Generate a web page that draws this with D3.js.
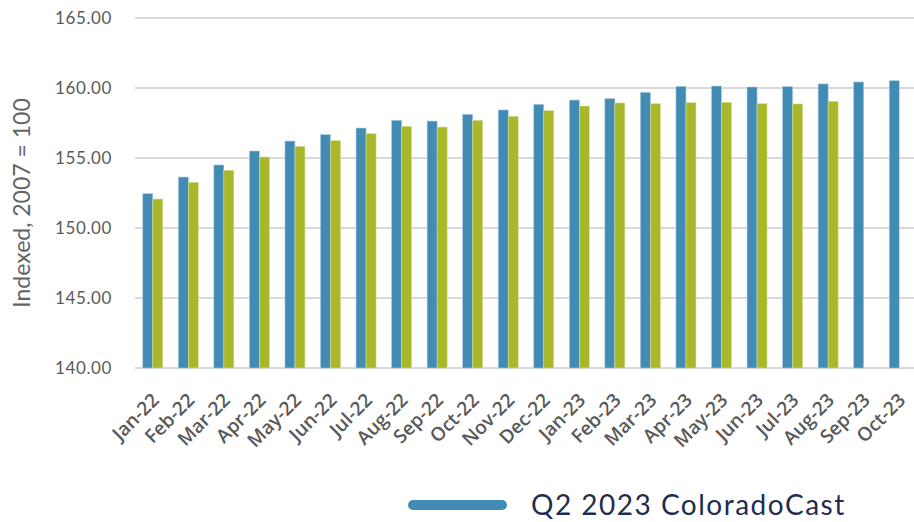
<!DOCTYPE html>
<html>
<head>
<meta charset="utf-8">
<script src="https://cdn.jsdelivr.net/npm/d3@7"></script>
<style>
  body { margin: 0; background: #fff; }
  svg { display: block; }
</style>
</head>
<body>
<svg width="914" height="522"></svg>
<script>
// months on the x axis
const months = ["Jan-22","Feb-22","Mar-22","Apr-22","May-22","Jun-22","Jul-22","Aug-22","Sep-22","Oct-22","Nov-22","Dec-22",
                "Jan-23","Feb-23","Mar-23","Apr-23","May-23","Jun-23","Jul-23","Aug-23","Sep-23","Oct-23"];

// Q2 2023 ColoradoCast (blue)
const castQ2 = [152.45,153.64,154.50,155.50,156.21,156.67,157.14,157.69,157.64,158.12,158.43,158.83,
                159.14,159.24,159.69,160.12,160.14,160.07,160.10,160.29,160.43,160.52];
// second series (green), ends Aug-23
const actual = [152.07,153.26,154.12,155.07,155.83,156.24,156.74,157.26,157.21,157.69,157.98,158.38,
                158.71,158.93,158.88,158.95,158.98,158.88,158.86,159.05];

const yTicks = [140,145,150,155,160,165];

const svg = d3.select("svg");
const mLeft = 135, mRight = 917, mTop = 18, mBottom = 368;
const blue = "#428bb5", green = "#a8b82a";

const x = d3.scaleBand().domain(months).range([mLeft, mRight]);
const y = d3.scaleLinear().domain([140, 165]).range([mBottom, mTop]);

// gridlines
svg.append("g").selectAll("line").data(yTicks).enter().append("line")
    .attr("x1", mLeft).attr("x2", 914)
    .attr("y1", d => y(d)).attr("y2", d => y(d))
    .attr("stroke", "#d9d9d9").attr("stroke-width", 2);

// y tick labels
svg.append("g").selectAll("text").data(yTicks).enter().append("text")
    .attr("x", 112).attr("y", d => y(d)).attr("dy", "0.35em")
    .attr("text-anchor", "end")
    .style("font-family", "Lato, 'Open Sans', sans-serif")
    .style("font-size", "17px").style("fill", "#595959")
    .style("letter-spacing", "0.6px")
    .text(d => d3.format(".2f")(d));

// y axis title
svg.append("text")
    .attr("transform", "translate(30,203) rotate(-90)")
    .attr("text-anchor", "middle")
    .style("font-family", "Lato, 'Open Sans', sans-serif")
    .style("font-size", "23px").style("fill", "#636363")
    .text("Indexed, 2007 = 100");

const barW = 10;

// blue bars
svg.append("g").selectAll("rect").data(castQ2).enter().append("rect")
    .attr("x", (d, i) => x(months[i]) + x.bandwidth() / 2 - barW)
    .attr("y", d => y(d))
    .attr("width", barW)
    .attr("height", d => y(140) - y(d))
    .attr("fill", blue)
    .attr("stroke", "#a9cbe0").attr("stroke-width", 0.6);

// green bars
svg.append("g").selectAll("rect").data(actual).enter().append("rect")
    .attr("x", (d, i) => x(months[i]) + x.bandwidth() / 2)
    .attr("y", d => y(d))
    .attr("width", barW)
    .attr("height", d => y(140) - y(d))
    .attr("fill", green)
    .attr("stroke", "#d6de98").attr("stroke-width", 0.6);

// x labels
svg.append("g").selectAll("text").data(months).enter().append("text")
    .attr("transform", d => "translate(" + (x(d) + x.bandwidth() / 2 - 2) + ",392) rotate(-45)")
    .attr("text-anchor", "end")
    .attr("dy", "0.7em")
    .style("font-family", "'Open Sans', sans-serif")
    .style("font-weight", 600)
    .style("font-size", "19px").style("fill", "#595959")
    .text(d => d);

// legend
svg.append("line")
    .attr("x1", 413).attr("x2", 502).attr("y1", 505).attr("y2", 505)
    .attr("stroke", blue).attr("stroke-width", 10).attr("stroke-linecap", "round");
svg.append("text")
    .attr("x", 531).attr("y", 515)
    .style("font-family", "Lato, 'Open Sans', sans-serif")
    .style("font-size", "28px").style("fill", "#1f2d50")
    .style("letter-spacing", "1.5px")
    .text("Q2 2023 ColoradoCast");
</script>
</body>
</html>
